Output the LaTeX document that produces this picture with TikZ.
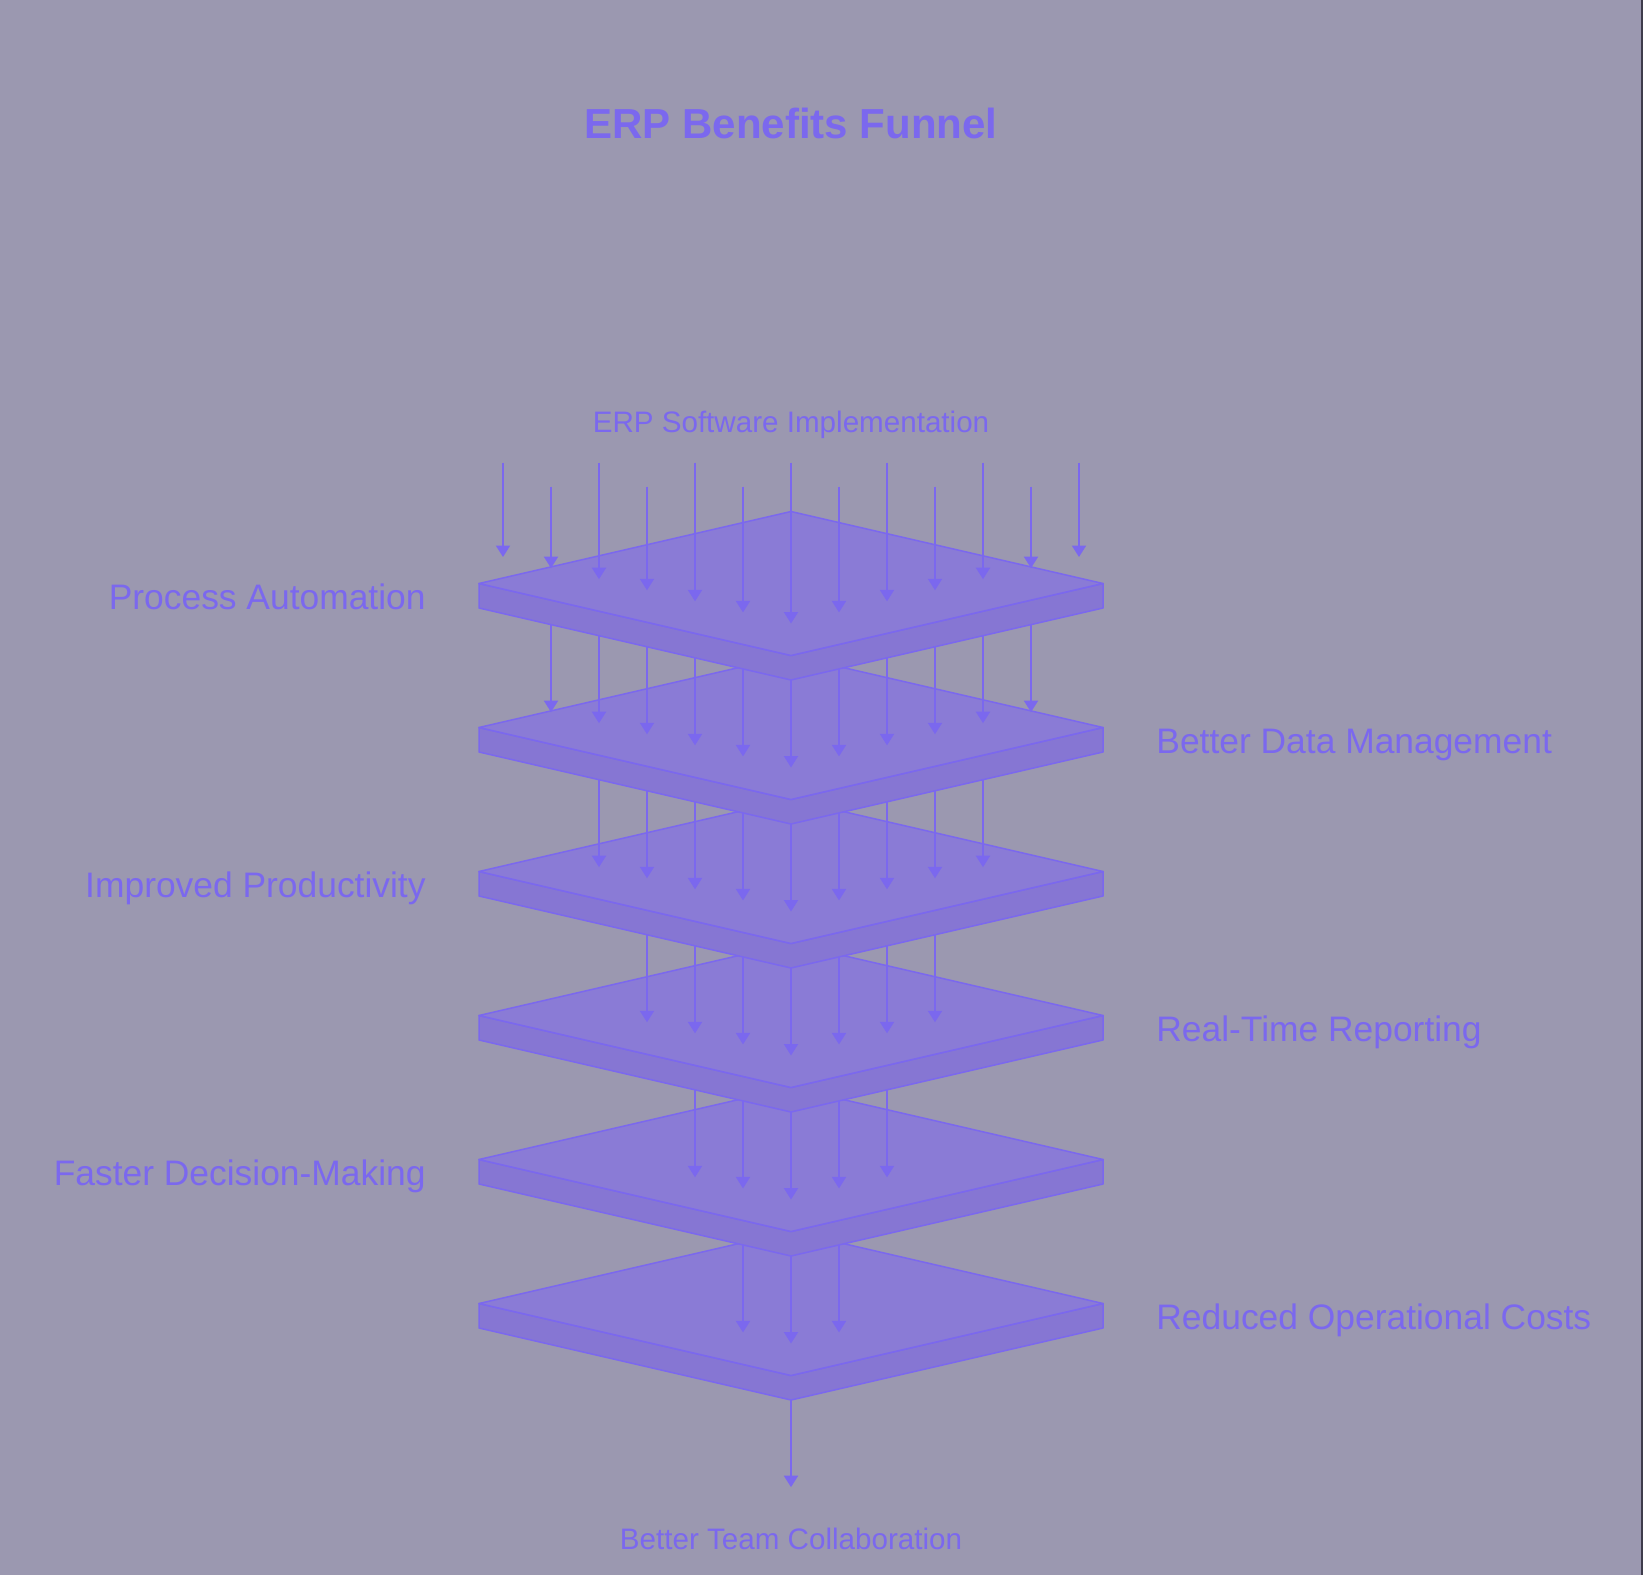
\documentclass[tikz,border=0pt]{standalone}
\usepackage{fontspec}
\setmainfont{Liberation Sans}
\usetikzlibrary{arrows.meta,calc}
\definecolor{bgcol}{HTML}{9B98B0}
\definecolor{ink}{HTML}{7B68EE}
\definecolor{topcol}{HTML}{8A7BD6}
\definecolor{sidecol}{HTML}{8676D3}
\definecolor{rimcol}{HTML}{3E3C4C}
\tikzset{
  plateedge/.style={draw=ink,line width=.75pt,line join=round},
  flow/.style={draw=ink,line width=1pt,-{Triangle[length=5.75pt,width=7pt]}},
  benefit/.style={text=ink,inner sep=0pt,font=\fontsize{17.7}{22}\selectfont},
  endlabel/.style={text=ink,inner sep=0pt,font=\fontsize{14.8}{18}\selectfont,anchor=base},
}
\begin{document}
\begin{tikzpicture}[x=.5pt,y=-.5pt]
\useasboundingbox (0,0) rectangle (1643,1574);
\fill[bgcol] (-10,-10) rectangle (1653,1584);
\draw[rimcol,line width=.75pt] (1642.2,-10) -- (1642.2,1584);
\node[text=ink,inner sep=0pt,anchor=base,font=\bfseries\fontsize{21}{25}\selectfont] (title) at (791,138) {ERP Benefits Funnel};
\node[endlabel] (input) at (791,432) {ERP Software Implementation};
% plates from the bottom up, each with the arrows that land on it
\foreach \i in {6,5,...,1} {
  \pgfmathsetmacro\cy{583.5+144*(\i-1)}
  \pgfmathtruncatemacro\n{7-\i}
  \coordinate (p\i) at (791,\cy);
  \filldraw[plateedge,fill=sidecol] (479,\cy) -- (791,\cy+72) -- (1103,\cy) -- (1103,\cy+24.5) -- (791,\cy+96.5) -- (479,\cy+24.5) -- cycle;
  \filldraw[plateedge,fill=topcol] (479,\cy) -- (791,\cy-72) -- (1103,\cy) -- (791,\cy+72) -- cycle;
  \foreach \k in {-\n,...,\n} {
    \pgfmathsetmacro\xs{791+48*\k}
    \pgfmathsetmacro\ye{\cy+40-11.08*abs(\k)}
    \pgfmathsetmacro\ys{ifthenelse(\i==1,ifthenelse(mod(abs(\k),2)==0,462.7,486.7),\cy-47.5-11.08*abs(\k))}
    \draw[flow] (\xs,\ys) -- (\xs,\ye);
  }
}
\node[benefit,anchor=base east] (auto) at ($(p1)+(-365,26)$) {Process Automation};
\node[benefit,anchor=base west] (data) at ($(p2)+(365,26)$) {Better Data Management};
\node[benefit,anchor=base east] (prod) at ($(p3)+(-365,26)$) {Improved Productivity};
\node[benefit,anchor=base west] (report) at ($(p4)+(365,26)$) {Real-Time Reporting};
\node[benefit,anchor=base east] (decide) at ($(p5)+(-365,26)$) {Faster Decision-Making};
\node[benefit,anchor=base west] (costs) at ($(p6)+(365,26)$) {Reduced Operational Costs};
\node[endlabel] (result) at (791,1549) {Better Team Collaboration};
\draw[flow,shorten >=20pt] ($(p6)+(0,96.5)$) -- (result.north);
\end{tikzpicture}
\end{document}
